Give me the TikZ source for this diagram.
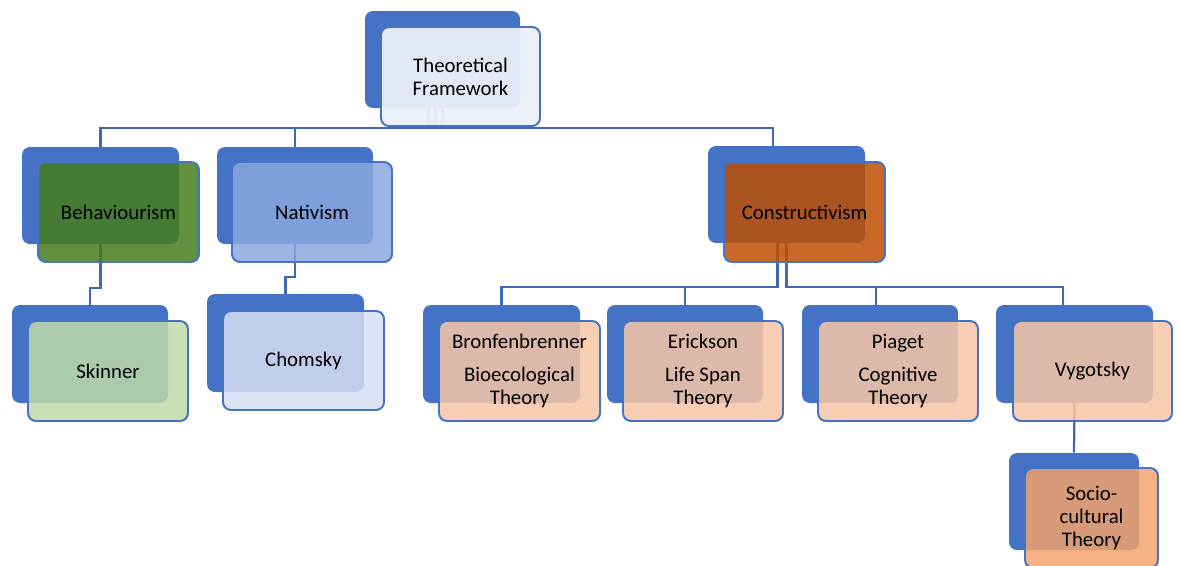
\documentclass[tikz,border=0pt]{standalone}
\usepackage{fontspec}
\setmainfont{Carlito}
\usetikzlibrary{fit,calc,backgrounds}
\definecolor{bk}{HTML}{4472C4}
\definecolor{ln}{HTML}{3F68B5}
\definecolor{tfc}{HTML}{EBEFF8}
\definecolor{grn}{HTML}{467D1D}
\definecolor{natc}{HTML}{89A7DD}
\definecolor{conc}{HTML}{BE4F04}
\definecolor{skic}{HTML}{BFDAA8}
\definecolor{choc}{HTML}{D7DFF2}
\definecolor{pchc}{HTML}{F7C6A5}
\definecolor{socc}{HTML}{F2A36D}
\begin{document}
\begin{tikzpicture}[x=0.025cm,y=-0.025cm,
  backbox/.style={draw=none, fill=bk, rounded corners=0.2cm, inner sep=0pt},
  frontbox/.style={draw=bk, line width=1.4pt, rounded corners=0.2cm, inner sep=0pt,
    fill opacity=0.85},
  txt/.style={align=center, inner sep=0pt, font=\fontsize{14.8}{16.3}\selectfont},
  conn/.style={draw=ln, line width=1.6pt}]
\useasboundingbox (0,0) rectangle (1179,566);

% Theoretical Framework
\node[backbox, fit={(365,11)(520,108)}] (tfb) {};
\node[frontbox, fill=tfc, fill opacity=0.95, fit={(381,27)(540,126)}] (tf) {};
\node[txt] (tft) at (tf.center) {Theoretical\\Framework};

% Level 2
\node[backbox, fit={(22,147)(179,244)}] (behb) {};
\node[frontbox, fill=grn, fit={(38,162)(199,262)}] (beh) {};
\node[txt] (beht) at (beh.center) {Behaviourism};
\node[backbox, fit={(217,147)(373,244)}] (natb) {};
\node[frontbox, fill=natc, fit={(232,162)(392,262)}] (nat) {};
\node[txt] (natt) at (nat.center) {Nativism};
\node[backbox, fit={(708,146)(865,243)}] (conb) {};
\node[frontbox, fill=conc, fit={(724,162)(885,262)}] (con) {};
\node[txt] (cont) at (con.center) {Constructivism};

% Level 3 left
\node[backbox, fit={(12,305)(168,403)}] (skib) {};
\node[frontbox, fill=skic, fit={(28,321)(188,421)}] (ski) {};
\node[txt] (skit) at (ski.center) {Skinner};
\node[backbox, fit={(207,294)(364,392)}] (chob) {};
\node[frontbox, fill=choc, fit={(223,311)(384,410)}] (cho) {};
\node[txt] (chot) at (cho.center) {Chomsky};

% Level 3 right
\node[backbox, fit={(423,305)(580,403)}] (brob) {};
\node[frontbox, fill=pchc, fit={(439,321)(600,421)}] (bro) {};
\node[txt] (brot) at (bro.center) {Bronfenbrenner\\[7pt]Bioecological\\Theory};
\node[backbox, fit={(607,305)(763,403)}] (erib) {};
\node[frontbox, fill=pchc, fit={(623,321)(783,421)}] (eri) {};
\node[txt] (erit) at (eri.center) {Erickson\\[7pt]Life Span\\Theory};
\node[backbox, fit={(802,305)(958,403)}] (piab) {};
\node[frontbox, fill=pchc, fit={(818,321)(978,421)}] (pia) {};
\node[txt] (piat) at (pia.center) {Piaget\\[7pt]Cognitive\\Theory};
\node[backbox, fit={(996,305)(1153,403)}] (vygb) {};
\node[frontbox, fill=pchc, fit={(1013,321)(1172,421)}] (vyg) {};
\node[txt] (vygt) at (vyg.center) {Vygotsky};

% Level 4
\node[backbox, fit={(1009,453)(1139,550)}] (socb) {};
\node[frontbox, fill=socc, fit={(1025,468)(1158,568)}] (soc) {};
\node[txt] (soct) at (soc.center) {Socio-\\cultural\\Theory};

\begin{scope}[on background layer]
  % from Theoretical Framework
  \coordinate (tfj) at ($(tfb.south)+(0,20)$);
  \draw[conn] (tfb.south) -- (tfj);
  \draw[conn] ($(tfb.south)+(-7,0)$) -- ($(tfj)+(-7,0)$);
  \draw[conn] ($(tfb.south)+(-14,0)$) -- ($(tfj)+(-14,0)$);
  \draw[conn] (behb.north) |- (tfj) -| ($(conb.north)+(-13.5,0)$);
  \draw[conn] (natb.north) -- (natb.north |- tfj);
  % Behaviourism -> Skinner
  \draw[conn] (behb.south) -- ++(0,44) -| (skib.north);
  % Nativism -> Chomsky
  \draw[conn] (natb.south) -- ++(0,33) -| (chob.north);
  % Constructivism -> theorists
  \coordinate (cj) at ($(conb.south)+(0,44)$);
  \coordinate (cjl) at ($(cj)+(-9,0)$);
  \coordinate (conl) at ($(conb.south)+(-9,0)$);
  \coordinate (piad) at ($(piab.north)+(-4,0)$);
  \draw[conn] (conb.south) -- (cj) -| ($(vygb.north)+(-11.5,0)$);
  \draw[conn] (piad) -- (piad |- cj);
  \draw[conn] (conl) -- (cjl) -| (brob.north);
  \draw[conn] (erib.north) -- (erib.north |- cjl);
  % Vygotsky -> Socio-cultural
  \draw[conn] (vygb.south) -- (socb.north);
\end{scope}
\end{tikzpicture}
\end{document}
